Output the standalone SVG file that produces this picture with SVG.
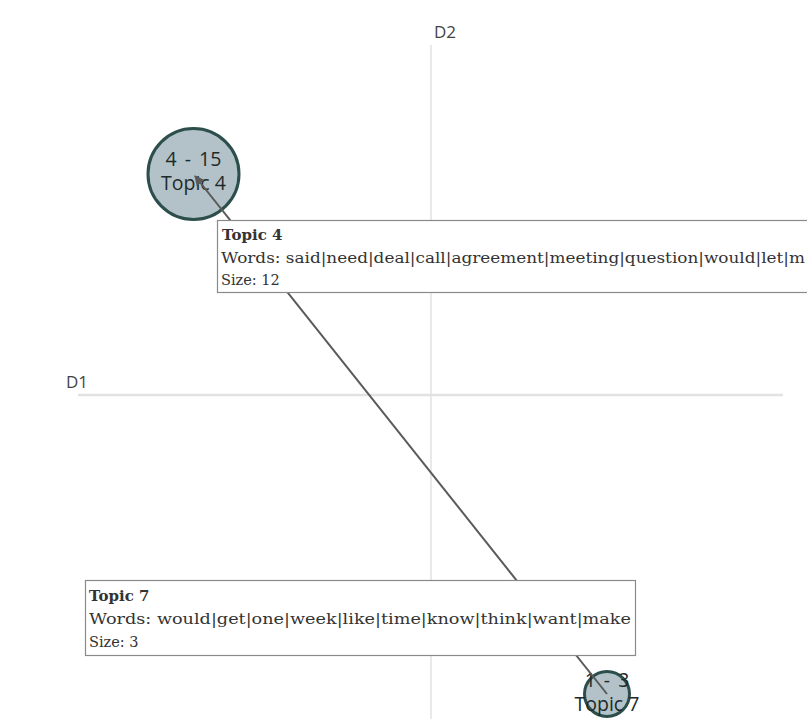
<svg xmlns="http://www.w3.org/2000/svg" width="807" height="719" viewBox="0 0 807 719">
<style>
.axis{stroke:#e2e2e2;fill:none}
.axlabel{font-family:"Open Sans","DejaVu Sans",sans-serif;font-size:17px;fill:#444}
.node circle{fill:#b3c2c8;stroke:#2c4f4c;stroke-width:3}
.node text{font-family:"Open Sans","DejaVu Sans",sans-serif;font-size:19.5px;fill:#1e2a2a;text-anchor:middle}
.node .num{word-spacing:3px}
.edge{stroke:#5a5a5a;stroke-width:2;fill:none}
.tip rect{fill:#fff;stroke:#8a8a8a;stroke-width:1.2}
.tip text{font-family:"DejaVu Serif","Liberation Serif",serif;font-size:14.5px;fill:#333}
.tip .ttl{font-weight:bold;font-size:15px}
</style>
<defs>
<marker id="arr" viewBox="0 0 10 10" refX="9" refY="5" markerWidth="5" markerHeight="5" orient="auto" markerUnits="strokeWidth">
<path d="M0,0 L10,5 L0,10 z" fill="#5a5a5a"/>
</marker>
</defs>
<g id="axes">
<line class="axis" x1="431" y1="45" x2="431" y2="719" stroke-width="1.5"/>
<line class="axis" x1="78" y1="395" x2="783" y2="395" stroke-width="2.5" stroke="#dcdcdc"/>
<text class="axlabel" x="434" y="38">D2</text>
<text class="axlabel" x="66" y="388">D1</text>
</g>
<g id="node-topic4" class="node">
<circle cx="193.5" cy="174" r="45.5"/>
<text class="num" x="193.5" y="166">4 - 15</text>
<text x="193.5" y="190">Topic 4</text>
</g>
<g id="node-topic7" class="node">
<circle cx="607" cy="694" r="22.5"/>
<text class="num" x="607" y="687">1 - 3</text>
<text x="607" y="711">Topic 7</text>
</g>
<g id="connectors">
<line class="edge" x1="607" y1="694" x2="195" y2="176" marker-end="url(#arr)"/>
</g>
<g id="tooltip-topic4" class="tip">
<rect x="217.5" y="220.5" width="600" height="72"/>
<text class="ttl" x="222" y="240">Topic 4</text>
<text x="221" y="263" textLength="584" lengthAdjust="spacingAndGlyphs">Words: said|need|deal|call|agreement|meeting|question|would|let|m</text>
<text x="221" y="285">Size: 12</text>
</g>
<g id="tooltip-topic7" class="tip">
<rect x="85.5" y="580.5" width="550" height="75"/>
<text class="ttl" x="89" y="601">Topic 7</text>
<text x="89" y="624" textLength="542" lengthAdjust="spacingAndGlyphs">Words: would|get|one|week|like|time|know|think|want|make</text>
<text x="89" y="647">Size: 3</text>
</g>
</svg>
